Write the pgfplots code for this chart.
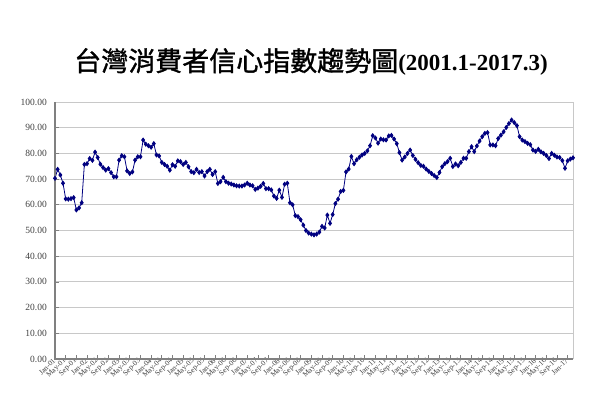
\documentclass[border=0pt]{standalone}
\usepackage{fontspec}
\setmainfont{Liberation Serif}
\newfontfamily\cjk{Noto Sans CJK TC}[FakeBold=1.2]
\usepackage{pgfplots}
\usepackage{pgfplotstable}
\pgfplotsset{compat=1.18}
\definecolor{navyline}{RGB}{0,0,128}
\definecolor{axgray}{RGB}{128,128,128}
\definecolor{gridgray}{RGB}{200,200,200}
\definecolor{labgray}{RGB}{64,64,64}
\pgfplotstableread{
v
70.3
73.8
71.6
68.4
62.3
62.2
62.4
62.8
58.0
58.8
60.8
75.7
76.0
78.0
77.3
80.5
78.4
75.8
74.5
73.5
74.1
72.5
70.9
70.9
77.4
79.1
78.7
73.2
72.2
72.8
77.4
78.7
78.7
85.2
83.6
83.0
82.4
83.8
79.4
79.0
76.5
75.7
75.0
73.5
75.6
75.0
77.1
76.8
75.7
76.5
74.8
72.9
72.5
73.8
72.6
72.9
71.2
72.9
73.8
71.8
72.9
68.3
69.0
70.7
69.0
68.4
68.1
67.7
67.4
67.3
67.3
67.7
68.4
67.7
67.4
66.0
66.5
67.2
68.3
66.3
66.3
65.8
63.4
62.5
65.7
62.9
68.0
68.4
60.8
60.0
55.8
55.4
54.2
52.1
50.0
49.0
48.6
48.3
48.6
49.4
51.6
51.0
56.0
52.8
56.2
60.5
62.2
65.2
65.6
72.8
73.9
78.8
76.0
77.5
78.5
79.4
80.0
81.0
83.0
86.9
86.0
84.0
85.6
85.3
85.2
86.8
87.0
85.6
83.8
80.3
77.4
78.6
80.0
81.3
79.2
77.7
76.4
75.3
75.0
73.9
73.0
72.2
71.4
70.6
72.6
74.8
76.0
76.8
78.1
74.9
75.9
75.2
76.5
78.1
78.1
80.7
82.6
80.7
82.9
84.8
86.5
87.8
88.1
83.3
83.3
83.0
85.8
87.1
88.4
90.1
91.6
93.0
92.0
90.8
86.5
85.2
84.6
83.9
83.4
81.3
80.8
81.6
80.6
80.0
79.2
78.0
80.0
79.3
78.6
78.4
77.2
74.2
77.1
77.8
78.3
}\cci
\begin{document}
\begin{tikzpicture}
\useasboundingbox (-55pt,-41pt) rectangle (545pt,359pt);
\begin{axis}[
  at={(0pt,0pt)}, anchor=south west,
  scale only axis, width=518pt, height=257pt,
  xmin=0, xmax=194, ymin=0, ymax=100,
  axis line style={draw=none},
  ytick={0,10,...,100},
  xtick={0,4,...,192},
  xticklabels={Jan-01,May-01,Sep-01,Jan-02,May-02,Sep-02,Jan-03,May-03,Sep-03,Jan-04,May-04,Sep-04,Jan-05,May-05,Sep-05,Jan-06,May-06,Sep-06,Jan-07,May-07,Sep-07,Jan-08,May-08,Sep-08,Jan-09,May-09,Sep-09,Jan-10,May-10,Sep-10,Jan-11,May-11,Sep-11,Jan-12,May-12,Sep-12,Jan-13,May-13,Sep-13,Jan-14,May-14,Sep-14,Jan-15,May-15,Sep-15,Jan-16,May-16,Sep-16,Jan-17},
  xtick pos=bottom, ytick pos=left,
  tick align=inside, major tick length=4pt,
  tick style={axgray, line width=0.8pt},
  ymajorgrids, grid style={gridgray, line width=1pt},
  /pgf/number format/assume math mode=true,
  yticklabel style={/pgf/number format/.cd, fixed, fixed zerofill, precision=2, /tikz/.cd,
    font=\fontsize{9.5pt}{11pt}\selectfont, text=labgray, anchor=east, inner sep=0pt, xshift=-8pt},
  xticklabel style={font=\fontsize{7.5pt}{8.5pt}\selectfont, text=labgray, rotate=45, anchor=east, inner sep=1pt},
  clip=false,
]
\draw[gridgray, line width=1pt] (rel axis cs:1,0) -- (rel axis cs:1,1);
\draw[gridgray, line width=1pt] (rel axis cs:0,1) -- (rel axis cs:1,1);
\addplot[navyline, line width=0.8pt, mark=diamond*, mark size=2pt, mark options={fill=navyline, draw=navyline}]
  table[x expr=\coordindex, y=v] {\cci};
\draw[axgray, line width=1.5pt] (rel axis cs:0,1) -- (rel axis cs:0,0) -- (rel axis cs:1,0);
\end{axis}
\node[anchor=center, inner sep=0pt] at (256pt,297pt) {{\fontsize{27pt}{30pt}\selectfont\cjk 台灣消費者信心指數趨勢圖}{\fontsize{23pt}{28pt}\selectfont\bfseries (2001.1-2017.3)}};
\end{tikzpicture}
\end{document}
